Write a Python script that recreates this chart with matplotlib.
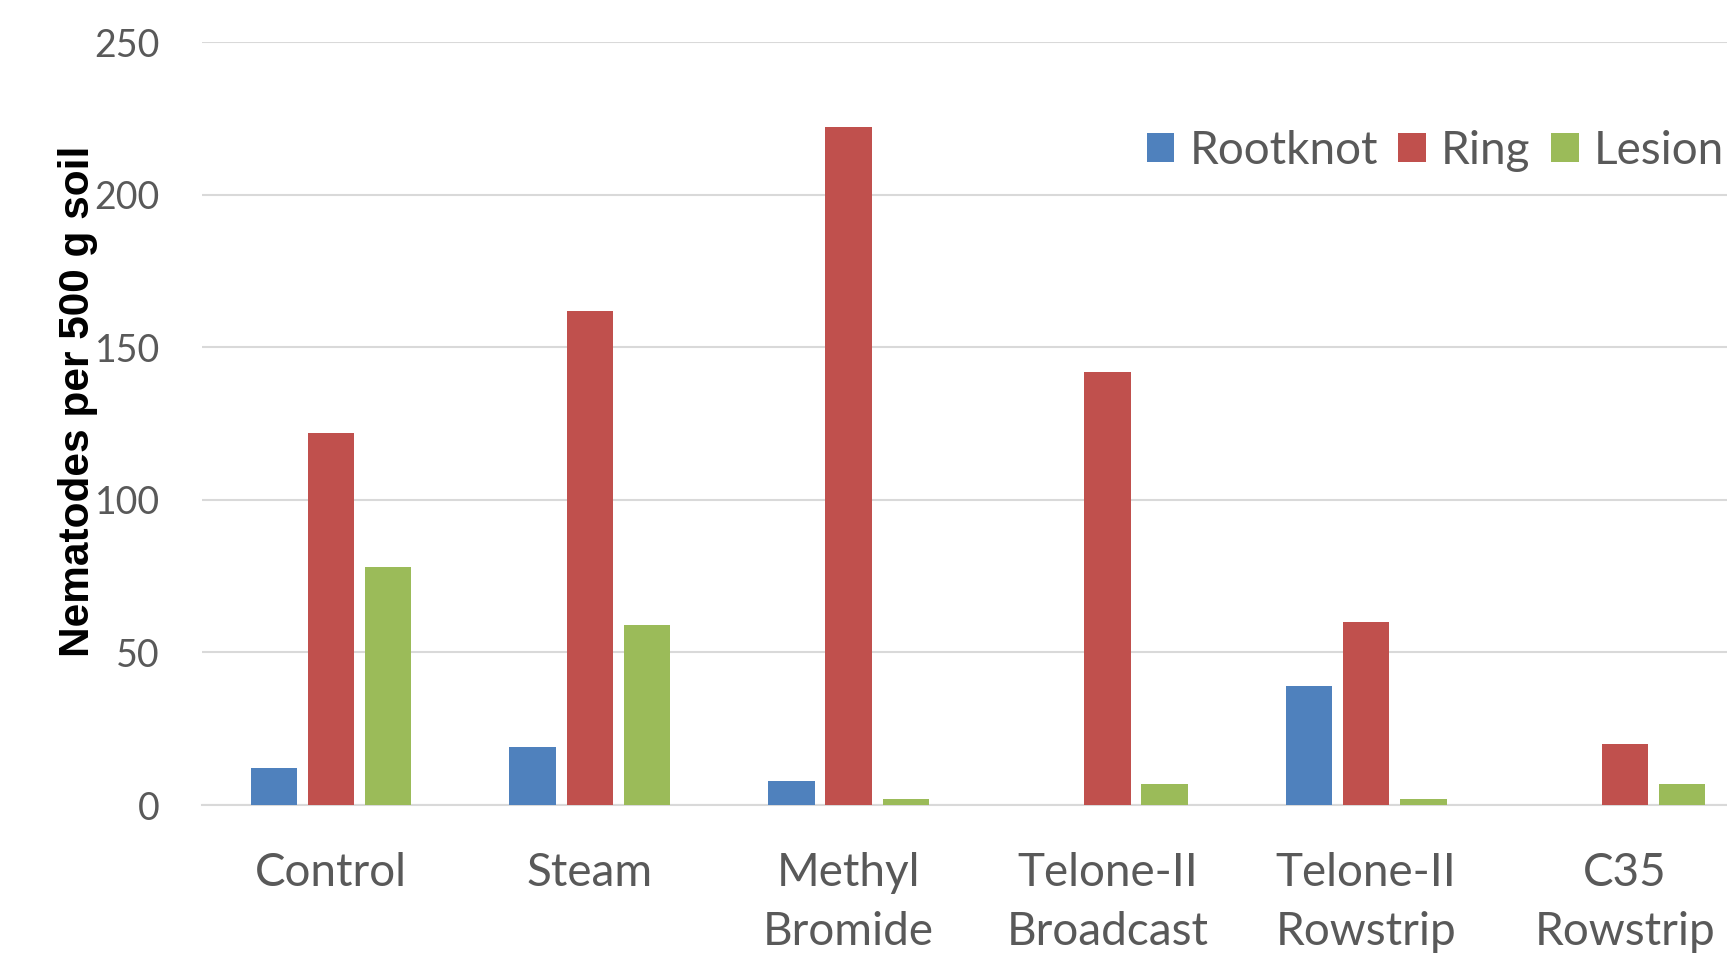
import matplotlib.pyplot as plt
import numpy as np

categories = ['Control', 'Steam', 'Methyl\nBromide', 'Telone-II\nBroadcast',
              'Telone-II\nRowstrip', 'C35\nRowstrip']
rootknot = [12, 19, 8, 0, 39, 0]
ring = [122, 162, 222, 142, 60, 20]
lesion = [78, 59, 2, 7, 2, 7]
series_names = ['Rootknot', 'Ring', 'Lesion']
colors = ['#4F81BD', '#C0504D', '#9BBB59']

fig = plt.figure(figsize=(17.27, 9.55), dpi=100)
# plot area runs past the right edge of the picture, like the reference
ax = fig.add_axes([201.5 / 1727, 1 - 805 / 955, 1553 / 1727, (805 - 42) / 955])

x = np.arange(len(categories))
width = 0.179
step = 0.221
for i, (vals, name, col) in enumerate(zip([rootknot, ring, lesion], series_names, colors)):
    ax.bar(x + (i - 1) * step, vals, width, color=col, label=name, zorder=3)

ax.set_xlim(-0.5, len(categories) - 0.5)
ax.set_ylim(0, 250)
ax.set_yticks([0, 50, 100, 150, 200, 250])
ax.yaxis.grid(True, color='#d9d9d9', linewidth=1.5, zorder=0)
for s in ['top', 'right', 'left']:
    ax.spines[s].set_visible(False)
ax.spines['bottom'].set_color('#d9d9d9')
ax.spines['bottom'].set_linewidth(1.5)

ax.set_xticks(x)
ax.set_xticklabels(categories, fontsize=33, color='#595959', family='Lato',
                   linespacing=1.5)
ax.tick_params(axis='x', length=0, pad=34)
ax.tick_params(axis='y', length=0, pad=30, labelsize=27, labelcolor='#595959')
for lab in ax.get_yticklabels():
    lab.set_family('Lato')

fig.text(78 / 1727, 1 - 401 / 955, 'Nematodes per 500 g soil', rotation=90,
         ha='center', va='center', fontsize=30.5, fontweight='bold',
         family=['Liberation Sans', 'DejaVu Sans'], color='black')

leg = ax.legend(ncol=3, loc='center right', bbox_to_anchor=(1724 / 1727, 1 - 151 / 955),
                bbox_transform=fig.transFigure, frameon=False,
                handlelength=0.6, handleheight=0.6, handletextpad=0.33,
                columnspacing=0.45, borderpad=0, borderaxespad=0,
                prop={'family': 'Lato', 'size': 33})
for t in leg.get_texts():
    t.set_color('#595959')

fig.savefig('out.png', dpi=100)
